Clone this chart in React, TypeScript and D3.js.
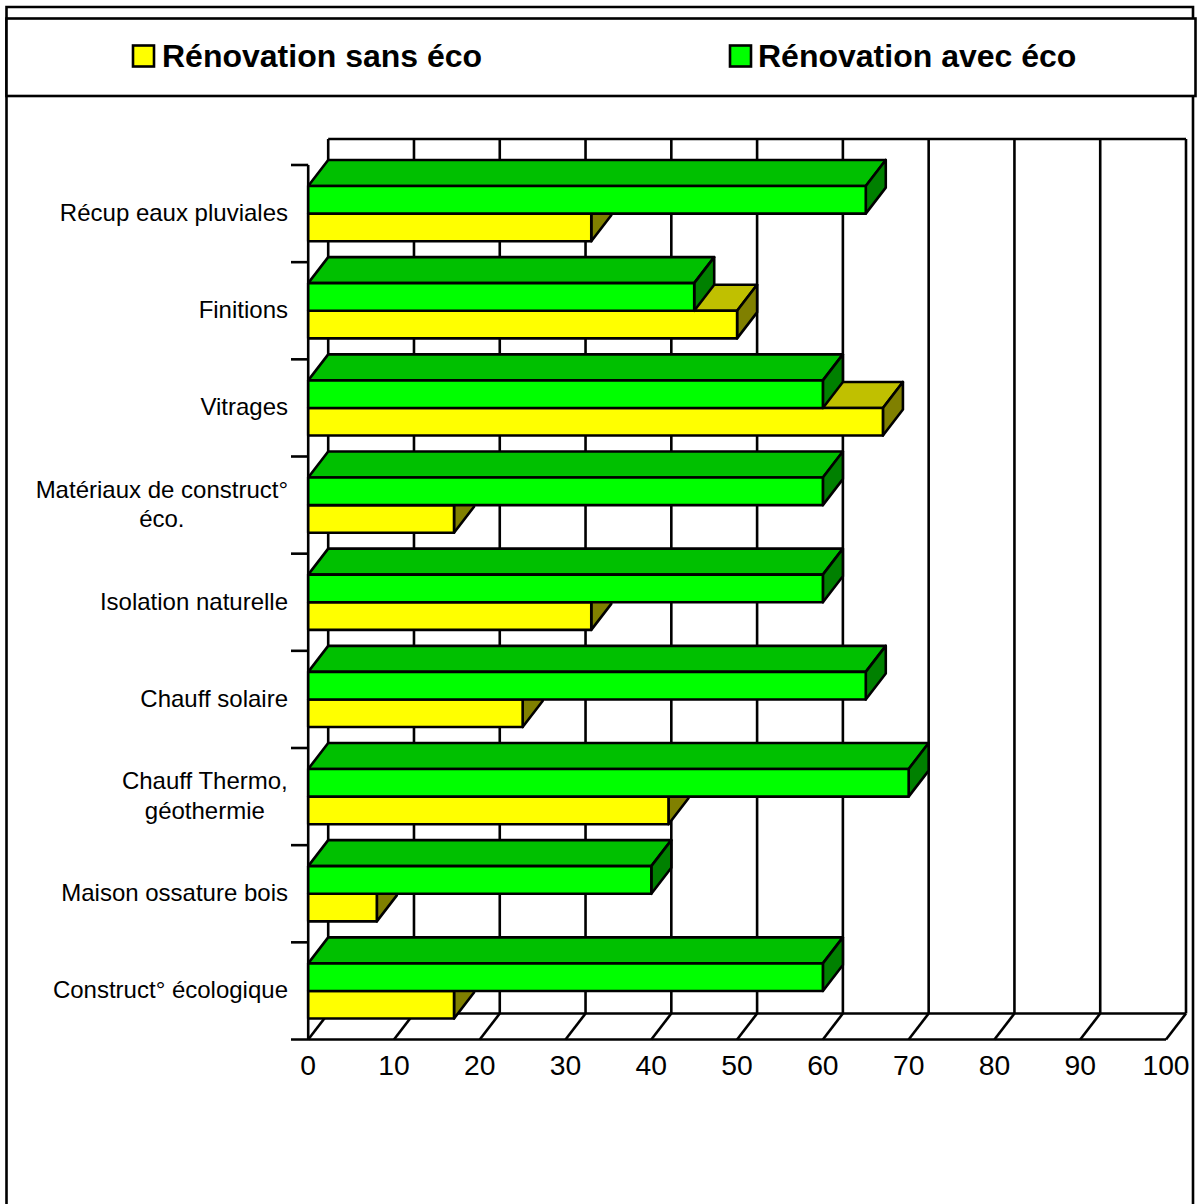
import React from "react";
import * as d3 from "d3";

const categories = ["Récup eaux pluviales", "Finitions", "Vitrages", "Matériaux de construct°|éco.", "Isolation naturelle", "Chauff solaire", "Chauff Thermo,|géothermie", "Maison ossature bois", "Construct° écologique"];
const sansEco = [33, 50, 67, 17, 33, 25, 42, 8, 17];
const avecEco = [65, 45, 60, 60, 60, 65, 70, 40, 60];
const xTicks = [0, 10, 20, 30, 40, 50, 60, 70, 80, 90, 100];
const legendLabels = ["Rénovation sans éco", "Rénovation avec éco"];

const FONT = '"Liberation Sans", Arial, sans-serif';
const LW = 2.6;
const DX = 20;
const DY = -26;
const FRONT_BOTTOM = 1039.5;
const FRONT_TOP = 165;
const BACK_TOP = 139;

const x = d3.scaleLinear().domain([0, 100]).range([308.2, 1166]);
const y = d3.scaleBand<string>().domain(categories).range([FRONT_TOP, FRONT_BOTTOM]);

const poly = (pts: [number, number][]) => d3.line()(pts) + "Z";

function measure(t: string, size: number) {
  const c = document.createElement("canvas").getContext("2d");
  if (!c) return t.length * size * 0.5;
  c.font = `${size}px ${FONT}`;
  return c.measureText(t).width;
}

function Bar({ v, top, h, front, topFace, side }: { v: number; top: number; h: number; front: string; topFace: string; side: string }) {
  const x0 = x(0);
  const x1 = x(v);
  return (
    <g stroke="#000" strokeWidth={LW} strokeLinejoin="round">
      <path d={poly([[x0, top], [x0 + DX, top + DY], [x1 + DX, top + DY], [x1, top]])} fill={topFace} />
      <path d={poly([[x1, top], [x1 + DX, top + DY], [x1 + DX, top + h + DY], [x1, top + h]])} fill={side} />
      <rect x={x0} y={top} width={x1 - x0} height={h} fill={front} />
    </g>
  );
}

function CategoryLabel({ text, cy }: { text: string; cy: number }) {
  const size = 24;
  const lines = text.split("|");
  const right = 288;
  const w = Math.max(...lines.map((l) => measure(l, size)));
  const lh = 29.5;
  return (
    <text fontFamily={FONT} fontSize={size} fill="#000" textAnchor={lines.length > 1 ? "middle" : "end"}>
      {lines.map((l, i) => (
        <tspan key={i} x={lines.length > 1 ? right - w / 2 : right} y={cy + 7.5 + (i - (lines.length - 1) / 2) * lh}>
          {l}
        </tspan>
      ))}
    </text>
  );
}

export default function App() {
  const h = 27.6;
  const barTop = 21;
  const xBack = (v: number) => x(v) + DX;
  return (
    <svg width={1197} height={1204} viewBox="0 0 1197 1204" style={{ position: "absolute", left: 0, top: 0, background: "#fff" }}>
      {/* outer frame */}
      <g stroke="#000" strokeWidth={LW} fill="none">
        <path d="M6.5 1204V7H1193V1204" />
        <rect x={6.5} y={18.5} width={1189} height={77.5} fill="#fff" />
      </g>
      {/* legend */}
      {legendLabels.map((l, i) => {
        const sx = [133, 730][i];
        return (
          <g key={l}>
            <rect x={sx} y={45.5} width={21} height={21} fill={["#ffff00", "#00ff00"][i]} stroke="#000" strokeWidth={LW} />
            <text x={sx + [29, 28][i]} y={67} fontFamily={FONT} fontWeight="bold" fontSize={32} fill="#000">{l}</text>
          </g>
        );
      })}
      {/* back wall + floor */}
      <g stroke="#000" strokeWidth={LW} fill="none">
        <line x1={xBack(0)} x2={xBack(100)} y1={BACK_TOP} y2={BACK_TOP} />
        <line x1={xBack(0)} x2={xBack(100)} y1={FRONT_BOTTOM + DY} y2={FRONT_BOTTOM + DY} />
        {xTicks.map((t) => (
          <g key={t}>
            <line x1={xBack(t)} x2={xBack(t)} y1={BACK_TOP} y2={FRONT_BOTTOM + DY} />
            <line x1={x(t)} x2={xBack(t)} y1={FRONT_BOTTOM} y2={FRONT_BOTTOM + DY} />
          </g>
        ))}
        <line x1={x(0)} x2={x(0)} y1={FRONT_TOP} y2={FRONT_BOTTOM} />
        <line x1={291} x2={x(100)} y1={FRONT_BOTTOM} y2={FRONT_BOTTOM} />
        {categories.map((c) => (
          <line key={c} x1={291} x2={x(0)} y1={y(c)!} y2={y(c)!} />
        ))}
      </g>
      {/* bars */}
      {categories.map((c, i) => {
        const b = y(c)!;
        return (
          <g key={c}>
            <Bar v={sansEco[i]} top={b + barTop + h} h={h} front="#ffff00" topFace="#c0c000" side="#808000" />
            <Bar v={avecEco[i]} top={b + barTop} h={h} front="#00ff00" topFace="#00c000" side="#008000" />
          </g>
        );
      })}
      {/* labels */}
      {categories.map((c) => (
        <CategoryLabel key={c} text={c} cy={y(c)! + y.bandwidth() / 2} />
      ))}
      {xTicks.map((t) => (
        <text key={t} x={x(t)} y={1075} textAnchor="middle" fontFamily={FONT} fontSize={28.3} fill="#000">{t}</text>
      ))}
    </svg>
  );
}
